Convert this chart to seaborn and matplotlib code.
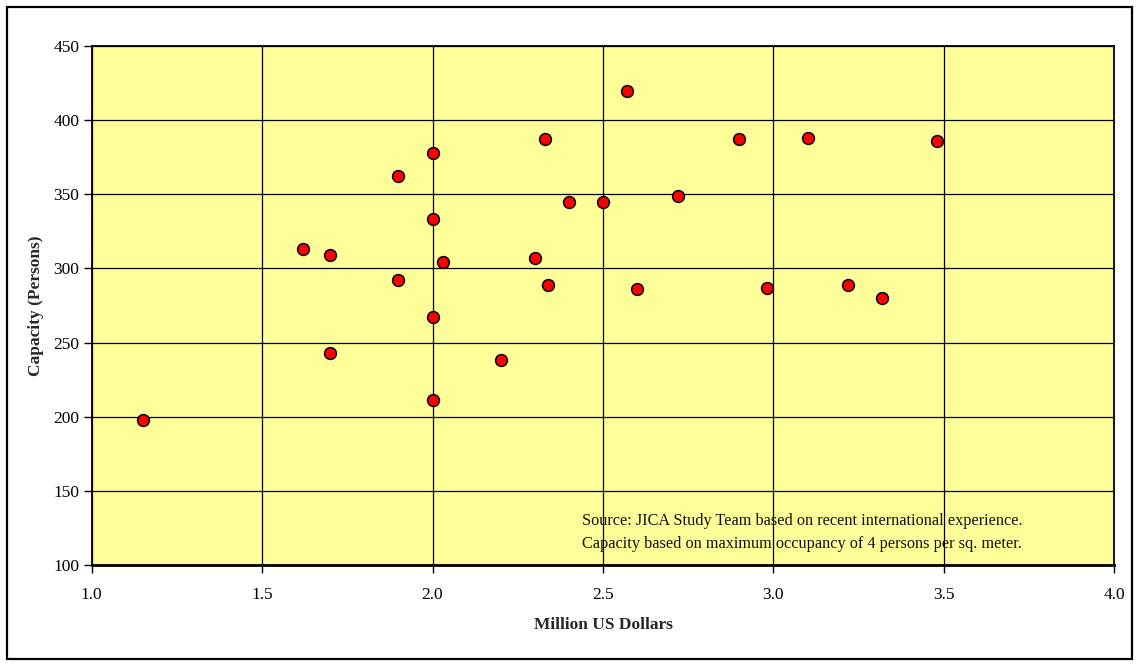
import matplotlib
matplotlib.use("Agg")
import matplotlib.pyplot as plt
from matplotlib.patches import Rectangle
import seaborn as sns
import pandas as pd

# Construction cost (million US$) vs. passenger capacity
cost_musd = [1.15, 1.62, 1.70, 1.70, 1.90, 1.90, 2.00, 2.00, 2.00, 2.00, 2.03, 2.20, 2.30,
             2.33, 2.34, 2.40, 2.50, 2.57, 2.60, 2.72, 2.90, 2.98, 3.10, 3.22, 3.32, 3.48]
capacity = [198, 313, 309, 243, 362, 292, 378, 333, 267, 211, 304, 238, 307,
            387, 289, 345, 345, 420, 286, 349, 387, 287, 388, 289, 280, 386]
x_ticks = [1.0, 1.5, 2.0, 2.5, 3.0, 3.5, 4.0]
y_ticks = [100, 150, 200, 250, 300, 350, 400, 450]
note_lines = ["Source: JICA Study Team based on recent international experience.",
              "Capacity based on maximum occupancy of 4 persons per sq. meter."]

df = pd.DataFrame({"cost": cost_musd, "capacity": capacity})

sns.set_style("white")
plt.rcParams["font.family"] = ["Liberation Serif", "DejaVu Serif"]

fig = plt.figure(figsize=(11.39, 6.66), dpi=100)
ax = fig.add_axes([0.0805, 0.1517, 0.9783 - 0.0805, 0.9309 - 0.1517])
ax.set_facecolor("#FFFF99")

sns.scatterplot(data=df, x="cost", y="capacity", ax=ax, s=72,
                color="#FF0000", edgecolor="black", linewidth=1.1, zorder=3)

ax.set_xlim(1.0, 4.0)
ax.set_ylim(100, 450)
ax.set_xticks(x_ticks)
ax.set_yticks(y_ticks)
ax.set_xticklabels([f"{v:.1f}" for v in x_ticks])
ax.set_yticklabels([str(v) for v in y_ticks])
ax.grid(True, color="black", linewidth=0.9)
ax.set_axisbelow(True)
ax.tick_params(direction="out", length=6, width=1, colors="black",
               labelsize=12.5, bottom=True, left=True)
ax.tick_params(axis="x", pad=10)
ax.tick_params(axis="y", pad=3)
for side in ax.spines.values():
    side.set_color("black")
    side.set_linewidth(1.3)
ax.spines["bottom"].set_linewidth(2.0)

ax.set_xlabel("Million US Dollars", fontsize=12.5, fontweight="bold", labelpad=10)
ax.set_ylabel("Capacity (Persons)", fontsize=12.5, fontweight="bold", labelpad=6.5)

ax.text(0.6946, 0.0626, note_lines[0] + "\n" + note_lines[1], transform=ax.transAxes,
        ha="center", va="center", fontsize=11.7, linespacing=1.6, color="#111111")

# Outer frame around the whole chart
fig.patches.append(Rectangle((7 / 1139, 7 / 666), 1 - 14 / 1139, 1 - 14 / 666,
                             transform=fig.transFigure, fill=False,
                             edgecolor="black", linewidth=1.6))

fig.savefig("out.png", dpi=100)
